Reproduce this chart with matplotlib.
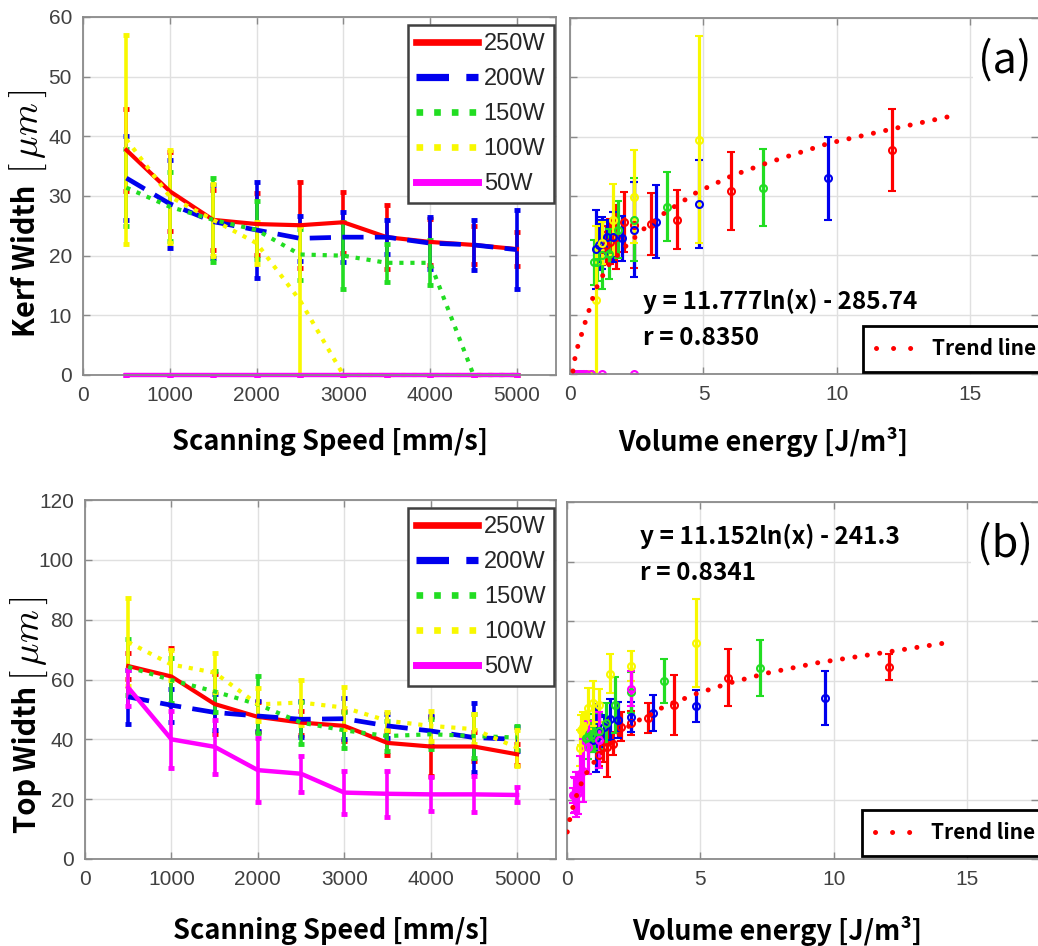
import matplotlib.pyplot as plt
from matplotlib.lines import Line2D


speed = [500, 1000, 1500, 2000, 2500, 3000, 3500, 4000, 4500, 5000]
power_labels = ["250W", "200W", "150W", "100W", "50W"]

# volume energy of each power / speed pair (x of the right panels)
energy_250 = [12.07, 6.04, 4.02, 3.02, 2.41, 2.01, 1.72, 1.51, 1.34, 1.21]
energy_200 = [9.66, 4.83, 3.22, 2.41, 1.93, 1.61, 1.38, 1.21, 1.07, 0.97]
energy_150 = [7.24, 3.62, 2.41, 1.81, 1.45, 1.21, 1.03, 0.91, 0.80, 0.72]
energy_100 = [4.83, 2.41, 1.61, 1.21, 0.97, 0.80, 0.69, 0.60, 0.54, 0.48]
energy_50 = [2.41, 1.21, 0.80, 0.60, 0.48, 0.40, 0.34, 0.30, 0.27, 0.24]

# kerf width [um]
kerf_250 = [37.7, 30.8, 26.0, 25.3, 25.1, 25.6, 23.1, 22.3, 21.8, 21.1]
kerf_250_err = [6.9, 6.6, 5.0, 5.2, 7.2, 5.1, 5.4, 3.8, 3.2, 2.8]
kerf_200 = [33.0, 28.7, 25.7, 24.3, 22.9, 23.1, 23.1, 22.1, 21.8, 21.0]
kerf_200_err = [7.0, 7.4, 6.1, 8.0, 3.8, 4.2, 2.8, 4.4, 4.2, 6.6]
kerf_150 = [31.4, 28.2, 26.0, 24.3, 20.2, 20.0, 18.8, 18.8, 0.0, 0.0]
kerf_150_err = [6.5, 5.8, 7.0, 4.8, 4.2, 5.6, 3.2, 3.8, 0.0, 0.0]
kerf_100 = [39.5, 29.9, 26.0, 22.1, 12.5, 0.0, 0.0, 0.0, 0.0, 0.0]
kerf_100_err = [17.5, 7.8, 6.0, 3.5, 12.5, 0.0, 0.0, 0.0, 0.0, 0.0]
kerf_50 = [0.0, 0.0, 0.0, 0.0, 0.0, 0.0, 0.0, 0.0, 0.0, 0.0]
kerf_50_err = [0.0, 0.0, 0.0, 0.0, 0.0, 0.0, 0.0, 0.0, 0.0, 0.0]

# top width [um]
top_250 = [64.5, 61.0, 51.8, 47.5, 45.6, 44.5, 38.8, 37.6, 37.6, 35.0]
top_250_err = [4.4, 9.5, 10.0, 5.0, 4.0, 5.0, 4.0, 10.0, 5.0, 3.6]
top_200 = [54.2, 51.4, 49.0, 47.8, 46.7, 46.9, 44.5, 42.8, 40.6, 40.0]
top_200_err = [9.0, 5.5, 6.0, 5.0, 6.0, 6.8, 4.0, 5.0, 11.5, 4.0]
top_150 = [64.2, 59.8, 56.0, 51.7, 45.6, 43.0, 41.1, 41.7, 41.1, 40.6]
top_150_err = [9.5, 7.5, 7.0, 9.5, 7.0, 6.0, 5.0, 5.0, 7.5, 4.0]
top_100 = [72.5, 65.0, 62.3, 51.7, 52.3, 50.6, 46.2, 44.5, 43.4, 37.2]
top_100_err = [14.8, 5.0, 6.5, 5.5, 7.5, 7.0, 3.0, 5.0, 5.0, 6.0]
top_50 = [57.3, 40.0, 37.5, 29.7, 28.5, 22.2, 21.8, 21.6, 21.6, 21.4]
top_50_err = [6.0, 9.5, 9.0, 10.6, 6.0, 7.2, 7.6, 5.7, 6.0, 2.5]

# trend line points
trend_kerf_x = [0.11, 0.19, 0.31, 0.47, 0.60, 0.77, 0.90, 1.10, 1.47, 2.08,
                2.75, 3.56, 4.74, 6.06, 7.40, 9.71, 12.07, 14.42]
trend_kerf_y = [0.5, 2.8, 5.0, 7.2, 9.2, 11.5, 13.6, 15.6, 18.5, 21.5,
                24.4, 27.2, 30.6, 33.4, 35.6, 38.9, 41.3, 43.6]
trend_top_x = [0.01, 0.11, 0.24, 0.39, 0.59, 0.84, 1.17, 1.74, 2.17, 2.59,
               3.01, 3.42, 3.86, 4.34, 4.80, 6.11, 7.51, 9.42, 11.82, 14.24]
trend_top_y = [9.1, 13.6, 18.1, 22.2, 26.6, 30.7, 34.2, 40.0, 43.7, 46.3,
               47.8, 50.2, 52.1, 53.7, 55.4, 59.2, 62.5, 66.0, 69.3, 72.7]

fit_kerf_text = "y = 11.777ln(x) - 285.74"
r_kerf_text = "r = 0.8350"
fit_top_text = "y = 11.152ln(x) - 241.3"
r_top_text = "r = 0.8341"


colors = ["#ff0000", "#0000ee", "#22dd22", "#f8f800", "#ff00ff"]
styles = ["-", (0, (4.5, 2.4)), ":", ":", "-"]
widths = [3.0, 3.4, 3.0, 3.0, 3.2]

plt.rcParams["font.family"] = ["Liberation Sans", "DejaVu Sans"]
plt.rcParams["mathtext.fontset"] = "cm"
label_font = ["Noto Sans CJK KR", "DejaVu Sans"]

W, H = 1038, 946
fig = plt.figure(figsize=(W / 100, H / 100), dpi=100)


def px_axes(left, top, right, bottom):
    return fig.add_axes([left / W, 1 - bottom / H, (right - left) / W, (bottom - top) / H])


def style_axes(ax, show_left_labels=True):
    ax.grid(True, color="#e0e0e0", linewidth=1.0)
    ax.set_axisbelow(True)
    ax.tick_params(direction="in", length=5, width=1, colors="#8a8a8a",
                   labelcolor="#404040", labelsize=15, top=True, right=True,
                   pad=8, labelleft=show_left_labels)
    for spine in ax.spines.values():
        spine.set_color("#8a8a8a")
        spine.set_linewidth(1.3)


def speed_panel(ax, means, errs, ylim, yticks, ylabel, ylabel_pos, xlabel_y):
    handles = []
    for m, e, c, ls, lw in zip(means, errs, colors, styles, widths):
        eb = ax.errorbar(speed, m, yerr=e, color=c, linestyle=ls, linewidth=lw,
                         elinewidth=2.6, capsize=2.2, capthick=3.5)
        for artist in eb.get_children():
            artist.set_clip_on(False)
        handles.append(Line2D([], [], color=c, linestyle=ls, linewidth=lw + 1.8))
    ax.set_xlim(0, 5450)
    ax.set_ylim(*ylim)
    ax.set_xticks([0, 1000, 2000, 3000, 4000, 5000])
    ax.set_yticks(yticks)
    style_axes(ax)
    leg = ax.legend(handles, power_labels, loc="upper right", bbox_to_anchor=(0.995, 0.978),
                    borderaxespad=0, fontsize=17, handlelength=2.6, handletextpad=0.25,
                    labelspacing=0.55, borderpad=0.35, fancybox=False, framealpha=1,
                    edgecolor="#404040")
    leg.get_frame().set_linewidth(1.8)
    leg.set_zorder(10)
    for t in leg.get_texts():
        t.set_color("#262626")
    ax.set_xlabel("Scanning Speed [mm/s]", fontsize=19.5, fontweight="bold", family=label_font)
    ax.xaxis.set_label_coords(0.523, xlabel_y)
    # y label: bold words plus a larger LaTeX-style unit
    lx, word_y, unit_y = ylabel_pos
    ax.text(lx, word_y, ylabel, transform=ax.transAxes, rotation=90, ha="center",
            va="center", fontsize=21, fontweight="bold", family=label_font)
    ax.text(lx + 0.004, unit_y, r"$[\,\mu m\,]$", transform=ax.transAxes, rotation=90,
            ha="center", va="center", fontsize=27)


def energy_panel(ax, energies, means, errs, trend_x, trend_y, xmax, ylim, yticks,
                 fit_text, r_text, text_y, tag, tag_y, legend_y):
    for x, m, e, c in zip(energies, means, errs, colors):
        ax.errorbar(x, m, yerr=e, fmt="o", color=c, markersize=5, markerfacecolor="none",
                    markeredgewidth=1.5, elinewidth=2.3, capsize=2.8, capthick=2.2)
    ax.plot(trend_x, trend_y, color="#ff0000", linestyle=(0, (0.01, 2.5)), linewidth=3.6,
            dash_capstyle="round", zorder=5)
    ax.set_xlim(0, xmax)
    ax.set_ylim(*ylim)
    ax.set_xticks([0, 5, 10, 15])
    ax.set_yticks(yticks)
    style_axes(ax, show_left_labels=False)
    ax.spines["right"].set_visible(False)
    ax.text(0.155, text_y, fit_text, transform=ax.transAxes, fontsize=17.5,
            fontweight="bold", family=label_font, va="center", zorder=6)
    ax.text(0.155, text_y - 0.105, r_text, transform=ax.transAxes, fontsize=17.5,
            fontweight="bold", family=label_font, va="center", zorder=6)
    ax.text(0.93, tag_y, tag, transform=ax.transAxes, fontsize=31, family=label_font,
            ha="center", va="center", zorder=7,
            bbox=dict(facecolor="white", edgecolor="none", pad=4))
    trend_handle = Line2D([], [], color="#ff0000", linestyle=(0, (0.01, 3.4)), linewidth=3.6,
                          dash_capstyle="round")
    leg = ax.legend([trend_handle], ["Trend line"], loc="lower left",
                    bbox_to_anchor=(0.627, legend_y), borderaxespad=0,
                    prop={"family": label_font, "weight": "bold", "size": 15},
                    handlelength=2.2, handletextpad=0.5, borderpad=0.6,
                    fancybox=False, framealpha=1, edgecolor="black")
    leg.get_frame().set_linewidth(2.0)
    leg.set_zorder(8)
    ax.set_xlabel("Volume energy [J/m\u00b3]", fontsize=19.5, fontweight="bold", family=label_font)


ax1 = px_axes(83, 17, 556, 375)
speed_panel(ax1, [kerf_250, kerf_200, kerf_150, kerf_100, kerf_50],
            [kerf_250_err, kerf_200_err, kerf_150_err, kerf_100_err, kerf_50_err],
            (0, 60), [0, 10, 20, 30, 40, 50, 60], "Kerf Width", (-0.12, 0.318, 0.68), -0.148)

ax2 = px_axes(570, 18, 1038, 374)
energy_panel(ax2, [energy_250, energy_200, energy_150, energy_100, energy_50],
             [kerf_250, kerf_200, kerf_150, kerf_100, kerf_50],
             [kerf_250_err, kerf_200_err, kerf_150_err, kerf_100_err, kerf_50_err],
             trend_kerf_x, trend_kerf_y, 17.53, (0, 60), [0, 10, 20, 30, 40, 50, 60],
             fit_kerf_text, r_kerf_text, 0.205, "(a)", 0.88, 0.006)
ax2.xaxis.set_label_coords(0.412, -0.149)

ax3 = px_axes(85, 500, 556, 859)
speed_panel(ax3, [top_250, top_200, top_150, top_100, top_50],
            [top_250_err, top_200_err, top_150_err, top_100_err, top_50_err],
            (0, 120), [0, 20, 40, 60, 80, 100, 120], "Top Width", (-0.123, 0.276, 0.615), -0.162)

ax4 = px_axes(567, 502, 1038, 859)
energy_panel(ax4, [energy_250, energy_200, energy_150, energy_100, energy_50],
             [top_250, top_200, top_150, top_100, top_50],
             [top_250_err, top_200_err, top_150_err, top_100_err, top_50_err],
             trend_top_x, trend_top_y, 17.66, (0, 120), [0, 20, 40, 60, 80, 100, 120],
             fit_top_text, r_top_text, 0.905, "(b)", 0.88, 0.009)
ax4.xaxis.set_label_coords(0.446, -0.16)

fig.savefig("out.png", dpi=100)
